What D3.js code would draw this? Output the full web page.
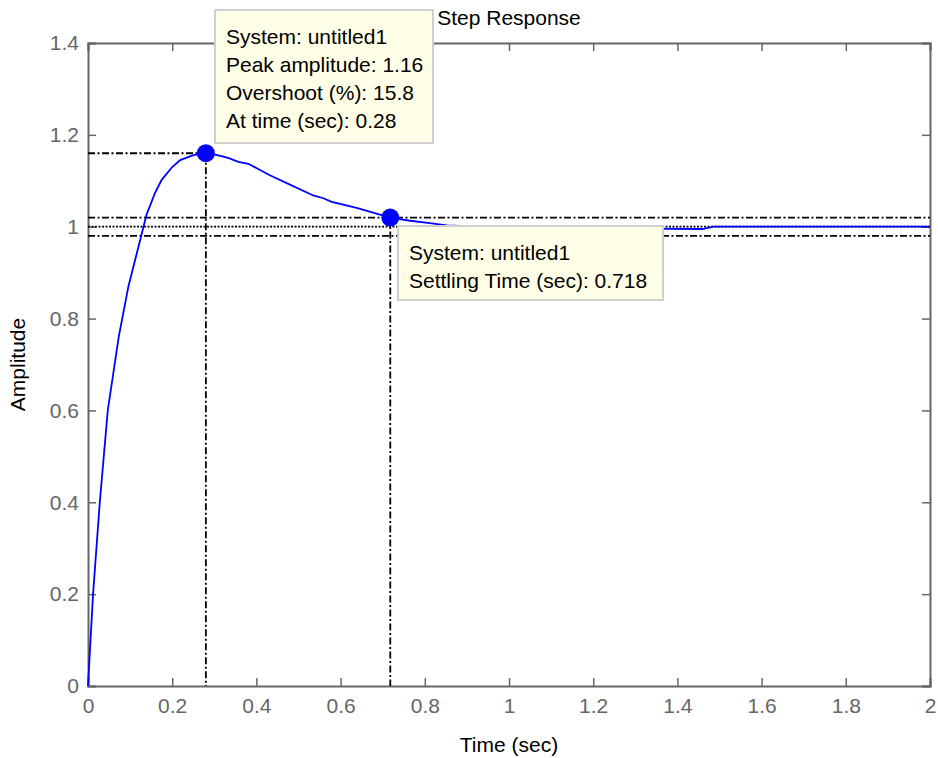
<!DOCTYPE html>
<html>
<head>
<meta charset="utf-8">
<script src="https://cdn.jsdelivr.net/npm/d3@7"></script>
<style>
  body { margin: 0; background: #fff; }
  text { font-family: 'Liberation Sans', Arial, sans-serif; }
</style>
</head>
<body>
<div id="chart"></div>
<script>
// step response samples
const timeVals = [0, 0.012, 0.028, 0.047, 0.06, 0.073, 0.096, 0.12, 0.139, 0.159, 0.175, 0.2, 0.219, 0.25, 0.28,
  0.302, 0.333, 0.357, 0.381, 0.432, 0.472, 0.535, 0.559, 0.579, 0.638, 0.718, 0.765, 0.812, 0.852, 0.9,
  1.0, 1.1, 1.3, 1.46, 1.485, 2.0]
const ampVals = [0, 0.2, 0.4, 0.6, 0.68, 0.76, 0.87, 0.957, 1.026, 1.073, 1.102, 1.13, 1.145, 1.156, 1.16,
  1.157, 1.15, 1.141, 1.137, 1.112, 1.095, 1.068, 1.062, 1.054, 1.041, 1.02, 1.013, 1.008, 1.003, 1.001,
  1.0, 0.999, 0.996, 0.995, 1.0, 1.0]

const xTicks = [0, 0.2, 0.4, 0.6, 0.8, 1, 1.2, 1.4, 1.6, 1.8, 2]
const yTicks = [0, 0.2, 0.4, 0.6, 0.8, 1, 1.2, 1.4]

const peak = { t: 0.28, y: 1.16 }
const settle = { t: 0.718, y: 1.02 }
const finalValue = 1
const band = [0.98, 1.02]

const peakText = ['System: untitled1', 'Peak amplitude: 1.16', 'Overshoot (%): 15.8', 'At time (sec): 0.28']
const settleText = ['System: untitled1', 'Settling Time (sec): 0.718']

let margin = { top: 43, left: 88, right: 8, bottom: 72 }
let width = 938 - margin.left - margin.right
let height = 758 - margin.top - margin.bottom

const fontSize = '21px'

const root = d3.select('#chart')
  .append('svg')
  .attr('width', 938)
  .attr('height', 758)

const svg = root.append('g')
  .attr('transform', 'translate(' + margin.left + ',' + margin.top + ')')

const x = d3.scaleLinear().domain([0, 2]).range([0, width])
const y = d3.scaleLinear().domain([0, 1.4]).range([height, 0])

const axisColor = '#666'
const fmt = d => (d === 0 || d === 1 || d === 2) ? String(d) : d3.format('.1f')(d)

// axes, ticks pointing inward on all four sides
const xAxisBottom = svg.append('g').attr('transform', 'translate(0,' + height + ')')
  .call(d3.axisBottom(x).tickValues(xTicks).tickSize(-8).tickPadding(12).tickFormat(fmt))
const xAxisTop = svg.append('g')
  .call(d3.axisTop(x).tickValues(xTicks).tickSize(-8).tickFormat(''))
const yAxisLeft = svg.append('g')
  .call(d3.axisLeft(y).tickValues(yTicks).tickSize(-8).tickPadding(9).tickFormat(fmt))
const yAxisRight = svg.append('g').attr('transform', 'translate(' + width + ',0)')
  .call(d3.axisRight(y).tickValues(yTicks).tickSize(-8).tickFormat(''))

;[xAxisBottom, xAxisTop, yAxisLeft, yAxisRight].forEach(g => {
  g.select('.domain').attr('stroke', axisColor).attr('stroke-width', 2)
  g.selectAll('.tick line').attr('stroke', axisColor).attr('stroke-width', 1.5)
  g.selectAll('.tick text').attr('fill', axisColor).style('font-size', fontSize)
})

// reference lines
const dashDot = '7,2.5,2,2.5'
svg.append('line')
  .attr('x1', 0).attr('x2', width).attr('y1', y(finalValue)).attr('y2', y(finalValue))
  .attr('stroke', '#000').attr('stroke-width', 1.8).attr('stroke-dasharray', '2,1.5')
svg.selectAll('.band')
  .data(band)
  .enter()
  .append('line')
  .attr('class', 'band')
  .attr('x1', 0).attr('x2', width)
  .attr('y1', d => y(d)).attr('y2', d => y(d))
  .attr('stroke', '#000').attr('stroke-width', 1.8).attr('stroke-dasharray', dashDot)

svg.append('line')
  .attr('x1', 0).attr('x2', x(peak.t)).attr('y1', y(peak.y)).attr('y2', y(peak.y))
  .attr('stroke', '#000').attr('stroke-width', 1.8).attr('stroke-dasharray', dashDot)
svg.selectAll('.drop')
  .data([peak, settle])
  .enter()
  .append('line')
  .attr('class', 'drop')
  .attr('x1', d => x(d.t)).attr('x2', d => x(d.t))
  .attr('y1', d => y(d.y)).attr('y2', height)
  .attr('stroke', '#000').attr('stroke-width', 1.8).attr('stroke-dasharray', dashDot)

// response curve
const points = timeVals.map((t, i) => [t, ampVals[i]])
svg.append('path')
  .datum(points)
  .attr('fill', 'none')
  .attr('stroke', '#0000ff')
  .attr('stroke-width', 1.8)
  .attr('d', d3.line().x(d => x(d[0])).y(d => y(d[1])))

svg.selectAll('.marker')
  .data([peak, settle])
  .enter()
  .append('circle')
  .attr('class', 'marker')
  .attr('cx', d => x(d.t))
  .attr('cy', d => y(d.y))
  .attr('r', 9)
  .attr('fill', '#0000ff')

// data tips
function dataTip(bx, by, bw, bh, lines) {
  const g = root.append('g')
  g.append('rect')
    .attr('x', bx).attr('y', by).attr('width', bw).attr('height', bh)
    .attr('fill', '#ffffe8').attr('stroke', '#cfcfcf').attr('stroke-width', 2)
  g.selectAll('text')
    .data(lines)
    .enter()
    .append('text')
    .attr('x', bx + 11)
    .attr('y', (d, i) => by + 33.5 + i * 28.3)
    .attr('fill', '#000')
    .style('font-size', fontSize)
    .text(d => d)
}
dataTip(215, 10, 218, 133, peakText)
dataTip(398, 226, 265, 74, settleText)

// title and labels
root.append('text')
  .attr('x', margin.left + width / 2)
  .attr('y', 25)
  .attr('text-anchor', 'middle')
  .style('font-size', fontSize)
  .text('Step Response')

root.append('text')
  .attr('x', margin.left + width / 2)
  .attr('y', 752)
  .attr('text-anchor', 'middle')
  .style('font-size', fontSize)
  .text('Time (sec)')

root.append('text')
  .attr('transform', 'translate(25,' + (margin.top + height / 2) + ') rotate(-90)')
  .attr('text-anchor', 'middle')
  .style('font-size', fontSize)
  .text('Amplitude')
</script>
</body>
</html>
